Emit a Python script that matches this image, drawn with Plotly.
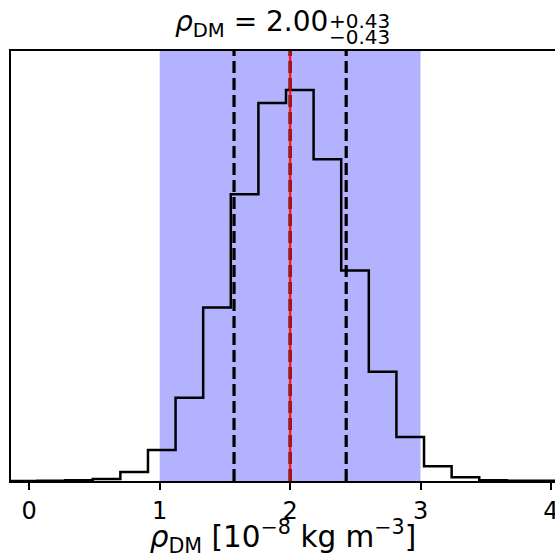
import numpy as np
import plotly.graph_objects as go

# histogram of rho_DM samples (20 bins), heights
bin_lo, bin_hi, n_bins = -0.148, 4.085, 20
counts = [0.1, 0.3, 0.7, 2.0, 9.0, 31.0, 83.0, 173.0, 286.0, 377.0,
          390.0, 321.0, 210.0, 109.0, 44.0, 14.7, 3.7, 0.7, 0.3, 0.15]
band = [1.0, 3.0]
quantiles = [1.57, 2.00, 2.43]
truth = 2.00
tick_vals = [0, 1, 2, 3, 4]

edges = np.linspace(bin_lo, bin_hi, n_bins + 1)
ymax = 1.1 * max(counts)

W, H = 555, 558
# axes box in page pixels: left 11, top 51, bottom 481, runs off the right edge
L, R, T, B = 11, 0, 51, 558 - 481
x_range = [-0.140, 4.031]


def px_x(px):
    # page pixel -> data x
    return x_range[0] + (px - L) / (W - L - R) * (x_range[1] - x_range[0])


def px_y(py):
    # page pixel -> paper y
    return (H - B - py) / (H - B - T)


fig = go.Figure()

fig.add_trace(go.Scatter(
    x=list(edges[:1]) + list(edges),
    y=[0] + counts + [counts[-1]],
    mode="lines", line=dict(color="black", width=2.5, shape="hv"),
    showlegend=False, hoverinfo="skip"))

shapes = [dict(type="rect", xref="x", yref="paper", x0=band[0], x1=band[1], y0=0, y1=1,
               fillcolor="rgba(0,0,255,0.3)", line=dict(width=0), layer="below")]
for q in quantiles:
    shapes.append(dict(type="line", xref="x", yref="paper", x0=q, x1=q, y0=0, y1=1,
                       line=dict(color="black", width=3.2, dash="12px,5px")))
shapes.append(dict(type="line", xref="x", yref="paper", x0=truth, x1=truth, y0=0, y1=1,
                   line=dict(color="rgba(255,0,0,0.85)", width=2.5)))

font = "DejaVu Sans"
annotations = [
    dict(text="<i>ρ</i><sub>DM</sub> = 2.00", xref="x", yref="paper",
         x=px_x(330), y=px_y(44), xanchor="right", yanchor="bottom",
         showarrow=False, font=dict(family=font, size=28, color="black")),
    dict(text="+0.43", xref="x", yref="paper",
         x=px_x(327), y=px_y(35), xanchor="left", yanchor="bottom",
         showarrow=False, font=dict(family=font, size=20, color="black")),
    dict(text="−0.43", xref="x", yref="paper",
         x=px_x(327), y=px_y(51), xanchor="left", yanchor="bottom",
         showarrow=False, font=dict(family=font, size=20, color="black")),
]

fig.update_layout(
    width=W, height=H, margin=dict(l=L, r=R, t=T, b=B),
    plot_bgcolor="white", paper_bgcolor="white",
    shapes=shapes, annotations=annotations,
    xaxis=dict(range=x_range, tickvals=tick_vals, ticks="outside", ticklen=7, tickwidth=1.5,
               tickcolor="black", showline=True, linecolor="black", linewidth=1.5, mirror=True,
               showgrid=False, zeroline=False, automargin=False, ticklabeloverflow="allow",
               tickfont=dict(family=font, size=24, color="black"),
               title=dict(text="<i>ρ</i><sub>DM</sub> [10<sup>−8</sup> kg m<sup>−3</sup>]",
                          font=dict(family=font, size=29.5, color="black"), standoff=2)),
    yaxis=dict(range=[0, ymax], showticklabels=False, ticks="", showline=True,
               linecolor="black", linewidth=1.5, showgrid=False, zeroline=False,
               automargin=False),
)

# the page body has a default 8px margin; drop it so the figure sits at the corner
fig.write_html("out.html", config={"displayModeBar": False},
               post_script="document.body.style.margin='0';"
                           "document.documentElement.style.overflow='hidden';")
